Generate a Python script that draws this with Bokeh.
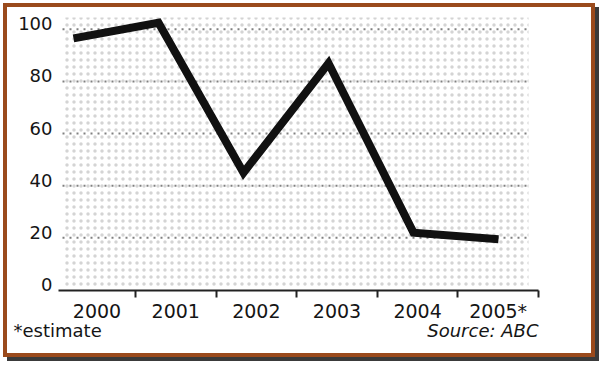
from bokeh.plotting import figure
from bokeh.models import (Range1d, FixedTicker, BoxAnnotation, Label, ColumnDataSource, LinearAxis)
from bokeh.embed import file_html
from bokeh.resources import INLINE

# ---- data ----
years = ["2000", "2001", "2002", "2003", "2004", "2005*"]
values = [96.5, 102.5, 45, 87, 22, 19.5]
y_ticks = [0, 20, 40, 60, 80, 100]
note_left = "*estimate"
note_right = "Source: ABC"

FONT = "DejaVu Sans"
TXT = "#151515"

# ---- geometry (pixels) ----
W, H = 592, 354
PX_X, PX_Y = 85.0, 2.607
ORG_X, ORG_Y = 66.0, 282.5          # where (0, 0) sits inside the canvas
x_start = -ORG_X / PX_X
x_end = x_start + W / PX_X
y_start = -(H - ORG_Y) / PX_Y
y_end = ORG_Y / PX_Y
ax0 = (51 - ORG_X) / PX_X           # left end of the x axis line
ax1 = (531 - ORG_X) / PX_X          # right end of the x axis line
gx0 = (55 - ORG_X) / PX_X           # halftone / grid extent
gx1 = (521 - ORG_X) / PX_X
gtop = (ORG_Y - 10) / PX_Y

idx = list(range(len(years)))
src = ColumnDataSource(dict(x=idx, y=values))

p = figure(width=W, height=H, output_backend="svg", toolbar_location=None,
           x_range=Range1d(x_start, x_end), y_range=Range1d(y_start, y_end),
           x_axis_location=None, y_axis_location=None,
           min_border=0, min_border_left=0, min_border_right=0,
           min_border_top=0, min_border_bottom=0,
           outline_line_color=None, background_fill_color="white", border_fill_color="white")
p.styles = {"margin-left": "3px", "margin-top": "3px",
            "border": "4px solid #9a4a1c", "box-shadow": "4px 4px 0 0 #3a3a3a"}
p.grid.visible = False

# band boundaries (tick marks) and band centres (labels)
step = (ax1 - 0.729) / (len(years) - 1)
bounds = [0.729 + step * i for i in idx]
bounds[-1] = ax1 - 0.0005
edges = [ax0] + bounds
centers = [(edges[i] + edges[i + 1]) / 2 for i in idx]

# dotted halftone background
p.add_layout(BoxAnnotation(left=gx0, right=gx1, bottom=0.5, top=gtop,
                           fill_alpha=0, line_color=None, hatch_pattern="dot",
                           hatch_color="#d4d4d4", hatch_scale=7, hatch_weight=0.5,
                           level="underlay"))

# dotted grid lines
n = len(y_ticks) - 1
p.segment(x0=[gx0] * n, x1=[gx1] * n, y0=y_ticks[1:], y1=y_ticks[1:],
          line_color="#808080", line_width=2, line_dash="2 5")

p.line("x", "y", source=src, line_width=8, line_color="#111111", line_join="miter")

# x axis, fixed at y = 0
xa = LinearAxis(fixed_location=0, bounds=(ax0, ax1))
xa.ticker = FixedTicker(ticks=centers, minor_ticks=bounds)
xa.major_label_overrides = {c: y for c, y in zip(centers, years)}
xa.major_tick_out = 0
xa.major_tick_in = 0
xa.minor_tick_out = 7
xa.minor_tick_in = 0
xa.minor_tick_line_width = 2
xa.minor_tick_line_color = "#222"
xa.axis_line_width = 2
xa.axis_line_color = "#222"
xa.major_label_standoff = 3
xa.major_label_text_font = FONT
xa.major_label_text_font_size = "19px"
xa.major_label_text_color = TXT
p.add_layout(xa, "below")

# y axis, fixed at the left end of the x axis; labels sit just above their grid line
lift = 5.5 / PX_Y
ya = LinearAxis(fixed_location=ax0, bounds=(0, 110))
ya.ticker = FixedTicker(ticks=[v + lift for v in y_ticks])
ya.major_label_overrides = {v + lift: str(v) for v in y_ticks}
ya.axis_line_color = None
ya.major_tick_line_color = None
ya.minor_tick_line_color = None
ya.major_tick_out = 0
ya.major_tick_in = 0
ya.major_label_standoff = 6
ya.major_label_text_font = FONT
ya.major_label_text_font_size = "18px"
ya.major_label_text_color = TXT
p.add_layout(ya, "left")

# footnotes
note_y = -40 / PX_Y
p.add_layout(Label(x=ax0, y=note_y, x_offset=-45, text=note_left,
                   text_font=FONT, text_font_size="18px", text_color=TXT,
                   text_baseline="middle", text_align="left"))
p.add_layout(Label(x=ax1, y=note_y, text=note_right,
                   text_font=FONT, text_font_size="18px", text_color=TXT,
                   text_font_style="italic", text_baseline="middle", text_align="right"))

open("out.html", "w").write(file_html(p, INLINE))
